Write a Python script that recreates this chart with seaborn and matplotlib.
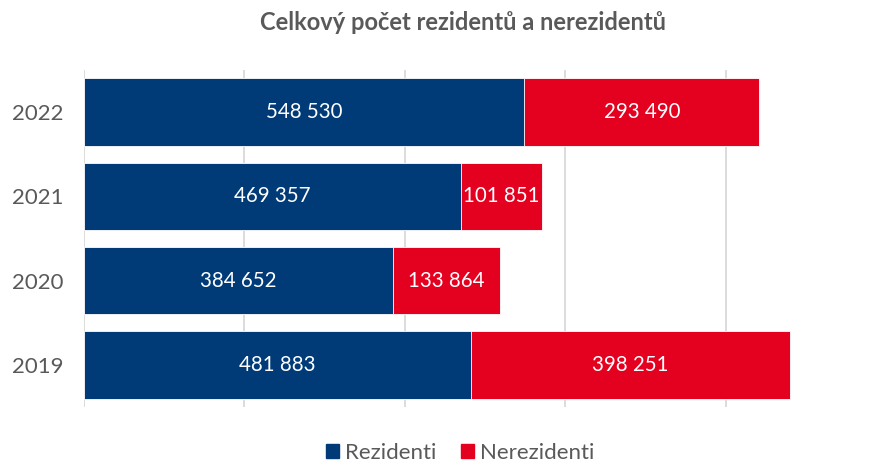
import matplotlib
matplotlib.use("Agg")
import matplotlib.pyplot as plt
from matplotlib.patches import Patch
import pandas as pd
import seaborn as sns

years = ["2022", "2021", "2020", "2019"]
rezidenti = [548530, 469357, 384652, 481883]
nerezidenti = [293490, 101851, 133864, 398251]

NAVY = "#003B78"
RED = "#E4001F"
GRAY = "#595959"

df = pd.DataFrame({"rok": years, "Rezidenti": rezidenti, "Nerezidenti": nerezidenti})
df["celkem"] = df["Rezidenti"] + df["Nerezidenti"]

sns.set_theme(style="white")
plt.rcParams["font.family"] = ["Lato", "DejaVu Sans"]

fig = plt.figure(figsize=(8.78, 4.67), dpi=100)
ax = fig.add_axes([84 / 878, 60 / 467, 722 / 878, 337 / 467])

# stacked: total in red underneath, residents drawn over it
sns.barplot(data=df, x="celkem", y="rok", color=RED, width=0.8, ax=ax,
            saturation=1, edgecolor="white", linewidth=0.6, zorder=2)
sns.barplot(data=df, x="Rezidenti", y="rok", color=NAVY, width=0.8, ax=ax,
            saturation=1, edgecolor="white", linewidth=0.6, zorder=3)

def fmt(v):
    return f"{v:,}".replace(",", " ")

for i, (r, n) in enumerate(zip(rezidenti, nerezidenti)):
    ax.text(r / 2, i, fmt(r), ha="center", va="center", color="white", fontsize=14.8, zorder=4)
    ax.text(r + n / 2, i, fmt(n), ha="center", va="center", color="white", fontsize=14.8, zorder=4)

ax.set_xlim(0, 900000)
ax.set_ylim(3.5, -0.5)
ax.set_xticks([0, 200000, 400000, 600000, 800000])
ax.xaxis.grid(True, color="#D9D9D9", linewidth=1.3, zorder=0)
ax.set_axisbelow(True)
ax.set_xticklabels([])
ax.tick_params(axis="x", length=0)
ax.tick_params(axis="y", length=0, labelsize=16, labelcolor=GRAY, pad=15)
ax.set_xlabel("")
ax.set_ylabel("")
for s in ax.spines.values():
    s.set_visible(False)

fig.text(463 / 878, 1 - 22 / 467, "Celkový počet rezidentů a nerezidentů",
         ha="center", va="center", fontsize=17, fontweight="bold", color=GRAY)

handles = [Patch(color=NAVY, label="Rezidenti"), Patch(color=RED, label="Nerezidenti")]
fig.legend(handles=handles, loc="center", bbox_to_anchor=(460 / 878, 1 - 453 / 467),
           ncol=2, frameon=False, fontsize=16, labelcolor=GRAY,
           handlelength=0.6, handleheight=0.6, handletextpad=0.25, columnspacing=1.1,
           borderpad=0.2)

fig.savefig("out.png", dpi=100)
